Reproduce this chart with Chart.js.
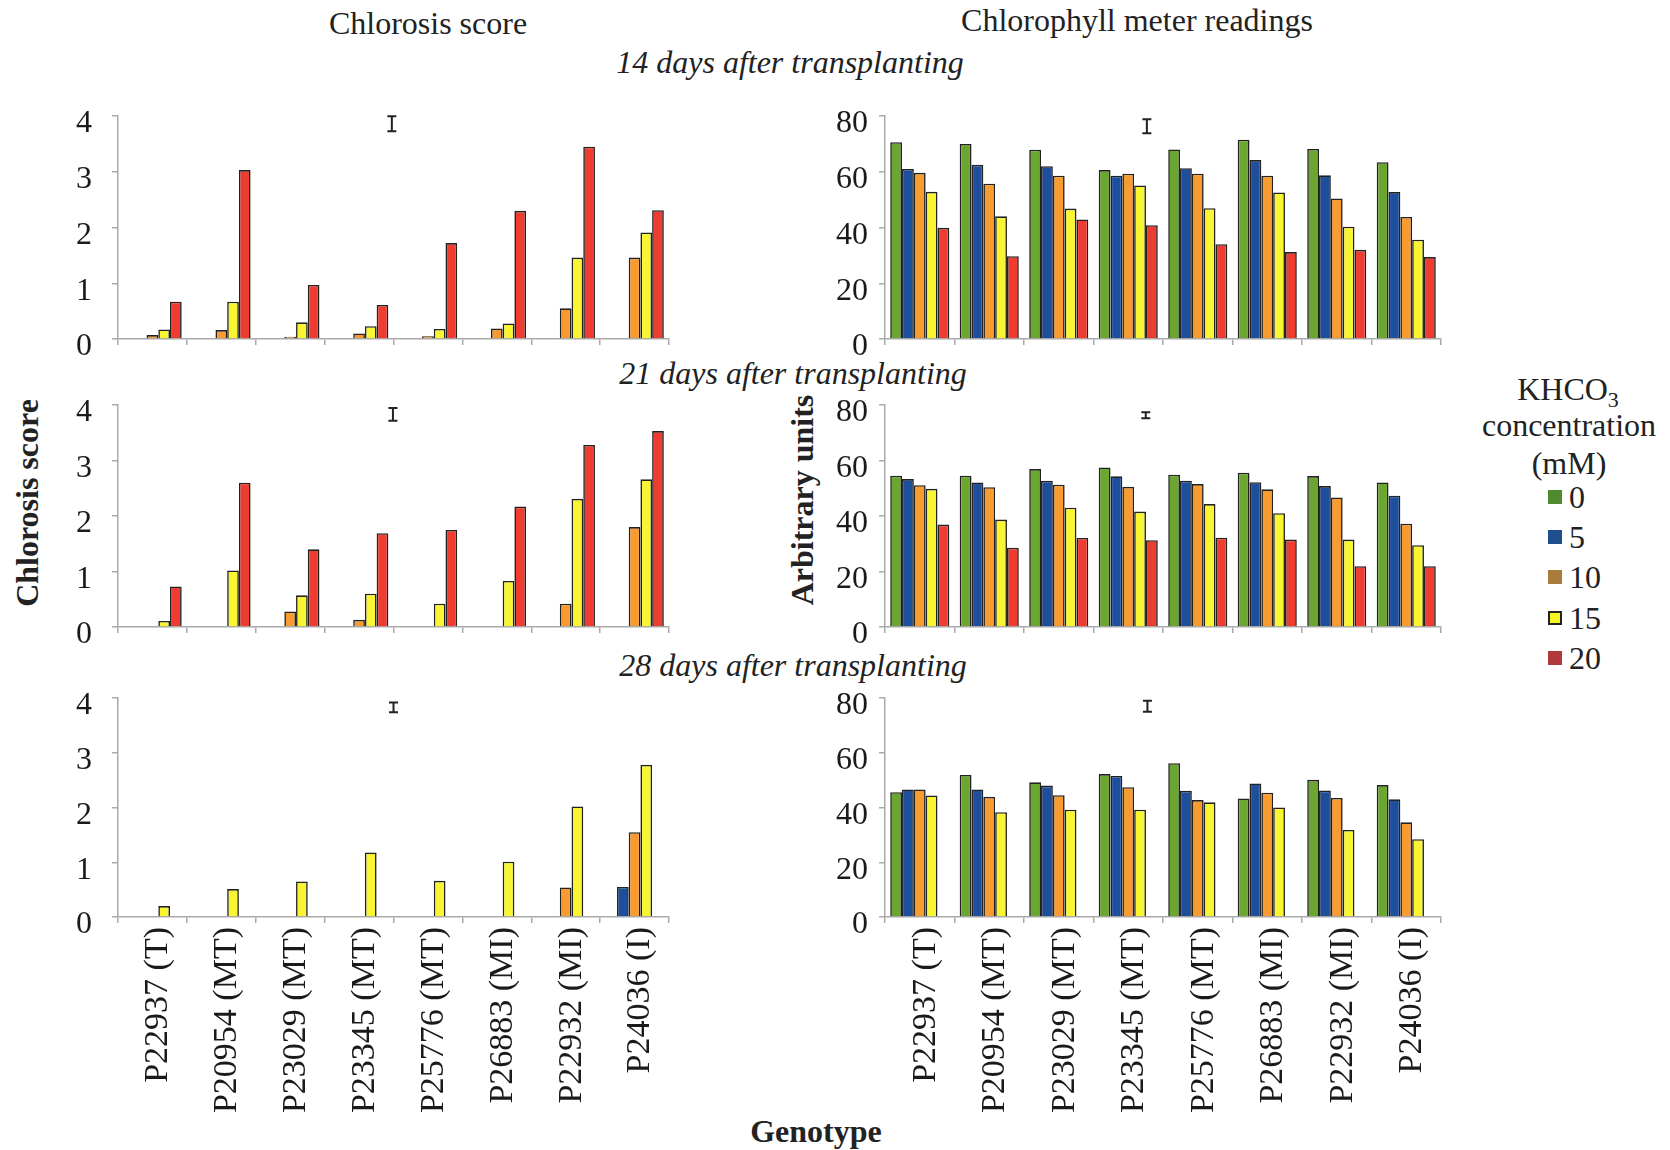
<!DOCTYPE html>
<html>
<head>
<meta charset="utf-8">
<script src="https://cdn.jsdelivr.net/npm/chart.js@4.4.1/dist/chart.umd.min.js"></script>
<style>
  body { margin:0; background:#fff; width:1670px; height:1150px; position:relative; overflow:hidden;
         font-family:"Liberation Serif","Times New Roman",serif; color:#222; }
  .txt { position:absolute; transform:translate(-50%,-50%); white-space:nowrap; font-size:32px; line-height:1; }
  .it  { font-style:italic; }
  .bold { font-weight:bold; font-size:32px; }
  .rot { transform:translate(-50%,-50%) rotate(-90deg); }
  .box { position:absolute; }
  .leg { position:absolute; font-size:32px; line-height:1; display:flex; align-items:center; transform:translateY(-50%); }
  .sw  { width:14px; height:14px; margin-right:7px; box-sizing:border-box; }
</style>
</head>
<body>

<div class="txt" style="left:428px;top:23px">Chlorosis score</div>
<div class="txt" style="left:1137px;top:20px">Chlorophyll meter readings</div>
<div class="txt it" style="left:790px;top:62px">14 days after transplanting</div>
<div class="txt it" style="left:793px;top:373px">21 days after transplanting</div>
<div class="txt it" style="left:793px;top:665px">28 days after transplanting</div>
<div class="txt bold rot" style="left:27px;top:503px">Chlorosis score</div>
<div class="txt bold rot" style="left:802px;top:500px">Arbitrary units</div>
<div class="txt bold" style="left:816px;top:1131px">Genotype</div>

<div class="txt" style="left:1568px;top:392px">KHCO<sub style="font-size:22px">3</sub></div>
<div class="txt" style="left:1569px;top:425px">concentration</div>
<div class="txt" style="left:1569px;top:463px">(mM)</div>
<div id="legend"></div>

<div class="box" style="left:40px;top:96px;width:640px;height:263px"><canvas id="s14"></canvas></div>
<div class="box" style="left:800px;top:96px;width:652px;height:263px"><canvas id="m14"></canvas></div>
<div class="box" style="left:40px;top:385px;width:640px;height:262px"><canvas id="s21"></canvas></div>
<div class="box" style="left:800px;top:385px;width:652px;height:262px"><canvas id="m21"></canvas></div>
<div class="box" style="left:40px;top:678px;width:640px;height:449px"><canvas id="s28"></canvas></div>
<div class="box" style="left:800px;top:678px;width:652px;height:449px"><canvas id="m28"></canvas></div>

<script>
// Genotipos y concentraciones de KHCO3
const GENOTYPES = ['P22937 (T)', 'P20954 (MT)', 'P23029 (MT)', 'P23345 (MT)',
                   'P25776 (MT)', 'P26883 (MI)', 'P22932 (MI)', 'P24036 (I)'];
const CONC = ['0', '5', '10', '15', '20'];

const COLORS        = ['#6ba630', '#1e4f9c', '#f89b30', '#f9f533', '#ef3c31'];
const LEGEND_COLORS = ['#4f8a2e', '#1f4f8c', '#a87c3c', '#f5f522', '#b1393b'];

const NONE = [null, null, null, null, null, null, null, null];

// ── Chlorosis score ──────────────────────────────────────────────────────────
const SCORE_14_C10 = [0.07, 0.16, 0.04, 0.10, 0.05, 0.19, 0.55, 1.46];
const SCORE_14_C15 = [0.17, 0.67, 0.30, 0.23, 0.18, 0.28, 1.46, 1.91];
const SCORE_14_C20 = [0.67, 3.03, 0.97, 0.61, 1.72, 2.30, 3.45, 2.31];

const SCORE_21_C10 = [null, null, 0.28, 0.13, null, null, 0.42, 1.80];
const SCORE_21_C15 = [0.11, 1.02, 0.57, 0.60, 0.42, 0.83, 2.31, 2.66];
const SCORE_21_C20 = [0.73, 2.60, 1.40, 1.69, 1.75, 2.17, 3.28, 3.53];

const SCORE_28_C5  = [null, null, null, null, null, null, null, 0.55];
const SCORE_28_C10 = [null, null, null, null, null, null, 0.54, 1.55];
const SCORE_28_C15 = [0.20, 0.51, 0.65, 1.18, 0.66, 1.01, 2.02, 2.78];

// ── Chlorophyll meter readings ───────────────────────────────────────────────
const METER_14_C0  = [70.6, 70.0, 67.9, 60.6, 68.0, 71.5, 68.2, 63.4];
const METER_14_C5  = [61.0, 62.5, 62.0, 58.6, 61.3, 64.2, 58.7, 52.7];
const METER_14_C10 = [59.6, 55.7, 58.6, 59.3, 59.3, 58.6, 50.4, 43.8];
const METER_14_C15 = [52.8, 44.0, 46.8, 55.1, 46.9, 52.6, 40.3, 35.6];
const METER_14_C20 = [39.9, 29.7, 42.9, 40.8, 34.0, 31.2, 32.0, 29.4];

const METER_21_C0  = [54.5, 54.5, 56.9, 57.5, 54.9, 55.6, 54.4, 52.1];
const METER_21_C5  = [53.3, 52.1, 52.7, 54.3, 52.7, 52.2, 50.8, 47.3];
const METER_21_C10 = [51.1, 50.4, 51.3, 50.5, 51.5, 49.6, 46.7, 37.2];
const METER_21_C15 = [49.8, 38.7, 43.0, 41.6, 44.3, 41.0, 31.5, 29.5];
const METER_21_C20 = [36.9, 28.6, 32.1, 31.3, 32.2, 31.5, 21.9, 21.9];

const METER_28_C0  = [45.6, 51.9, 49.2, 52.2, 56.2, 43.3, 50.1, 48.2];
const METER_28_C5  = [46.6, 46.6, 48.0, 51.5, 46.1, 48.8, 46.2, 43.0];
const METER_28_C10 = [46.6, 43.9, 44.5, 47.4, 42.7, 45.4, 43.5, 34.6];
const METER_28_C15 = [44.4, 38.3, 39.2, 39.2, 41.9, 40.0, 31.8, 28.4];

// Barra LSD ("I") de cada panel: largo y centro en unidades del eje
const LSD_SCORE    = [0.27, 0.23, 0.18];
const LSD_SCORE_AT = [3.86, 3.83, 3.83];
const LSD_METER    = [5.0, 2.2, 4.0];
const LSD_METER_AT = [76.3, 76.3, 77.0];

Chart.defaults.font.family = '"Liberation Serif", "Times New Roman", serif';
Chart.defaults.color = '#1a1a1a';
Chart.defaults.animation = false;

// Dibuja la barra LSD en forma de "I"
const lsdPlugin = {
  id: 'lsd',
  afterDatasetsDraw(chart, args, opts) {
    const { ctx, chartArea, scales: { y } } = chart;
    const x  = chartArea.left + opts.frac * (chartArea.right - chartArea.left);
    const y1 = y.getPixelForValue(opts.at + opts.len / 2);
    const y2 = y.getPixelForValue(opts.at - opts.len / 2);
    ctx.save();
    ctx.strokeStyle = '#222';
    ctx.lineWidth = 2;
    ctx.beginPath();
    ctx.moveTo(x, y1); ctx.lineTo(x, y2);
    ctx.moveTo(x - 4.5, y1); ctx.lineTo(x + 4.5, y1);
    ctx.moveTo(x - 4.5, y2); ctx.lineTo(x + 4.5, y2);
    ctx.stroke();
    ctx.restore();
  },
};

const gridStyle = { display: true, drawOnChartArea: false, tickLength: 6, color: '#aaa', lineWidth: 1.5 };

function renderPanel(id, series, yMax, yStep, yWidth, yPad, showLabels, lsd) {
  new Chart(document.getElementById(id), {
    type: 'bar',
    data: {
      labels: GENOTYPES,
      datasets: series.map((data, i) => ({
        label: CONC[i],
        data,
        backgroundColor: COLORS[i],
        borderColor: '#222',
        borderWidth: 1.6,
        categoryPercentage: 0.85,
        barPercentage: 1.0,
      })),
    },
    options: {
      responsive: true,
      maintainAspectRatio: false,
      layout: { padding: { top: 20, right: 11, left: 0, bottom: 0 } },
      plugins: { legend: { display: false }, tooltip: { enabled: false }, lsd },
      scales: {
        x: {
          grid: { ...gridStyle, offset: true },
          border: { color: '#aaa', width: 1.5 },
          ticks: {
            display: showLabels, autoSkip: false, minRotation: 90, maxRotation: 90,
            padding: 4, labelOffset: 6, font: { size: 34 }, color: '#1a1a1a',
          },
          afterFit: s => {
            s.height = showLabels ? 210 : 20;
            s.paddingLeft = 0; s.paddingRight = 0;
          },
        },
        y: {
          min: 0, max: yMax,
          grid: gridStyle,
          border: { color: '#aaa', width: 1.5 },
          ticks: { stepSize: yStep, padding: yPad, labelOffset: 8, font: { size: 32 }, color: '#1a1a1a' },
          afterFit: s => {
            s.width = yWidth;
            s.paddingTop = 0; s.paddingBottom = 0;
          },
        },
      },
    },
    plugins: [lsdPlugin],
  });
}

const lsdOpt = (len, at, frac) => ({ len, at, frac });

renderPanel('s14', [NONE, NONE, SCORE_14_C10, SCORE_14_C15, SCORE_14_C20], 4, 1, 78, 20, false,
  lsdOpt(LSD_SCORE[0], LSD_SCORE_AT[0], 0.497));
renderPanel('s21', [NONE, NONE, SCORE_21_C10, SCORE_21_C15, SCORE_21_C20], 4, 1, 78, 20, false,
  lsdOpt(LSD_SCORE[1], LSD_SCORE_AT[1], 0.499));
renderPanel('s28', [NONE, SCORE_28_C5, SCORE_28_C10, SCORE_28_C15, NONE], 4, 1, 78, 20, true,
  lsdOpt(LSD_SCORE[2], LSD_SCORE_AT[2], 0.5));

renderPanel('m14', [METER_14_C0, METER_14_C5, METER_14_C10, METER_14_C15, METER_14_C20], 80, 20, 85, 11, false,
  lsdOpt(LSD_METER[0], LSD_METER_AT[0], 0.471));
renderPanel('m21', [METER_21_C0, METER_21_C5, METER_21_C10, METER_21_C15, METER_21_C20], 80, 20, 85, 11, false,
  lsdOpt(LSD_METER[1], LSD_METER_AT[1], 0.469));
renderPanel('m28', [METER_28_C0, METER_28_C5, METER_28_C10, METER_28_C15, NONE], 80, 20, 85, 11, true,
  lsdOpt(LSD_METER[2], LSD_METER_AT[2], 0.472));

// Leyenda compartida (HTML)
const legendTop = [497, 537, 577, 618, 658];
document.getElementById('legend').innerHTML = CONC.map((c, i) => `
  <div class="leg" style="left:1548px;top:${legendTop[i]}px">
    <div class="sw" style="background:${LEGEND_COLORS[i]};${i === 3 ? 'border:2px solid #222' : ''}"></div>${c}
  </div>`).join('');
</script>
</body>
</html>
